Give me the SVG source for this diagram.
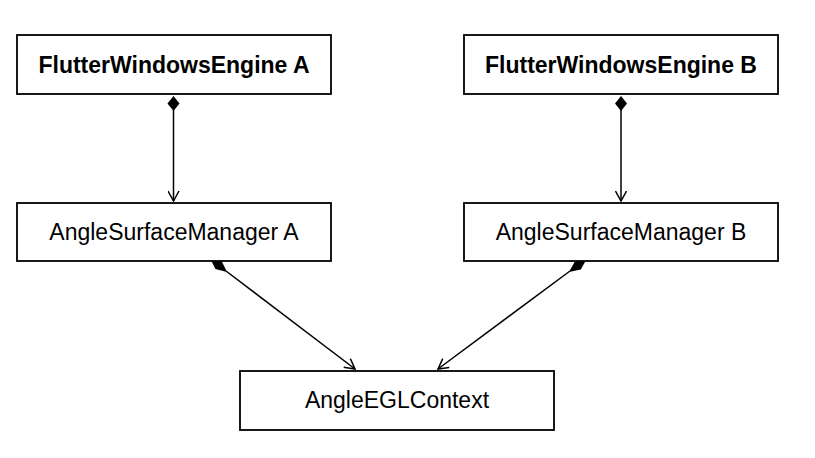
<svg xmlns="http://www.w3.org/2000/svg" width="815" height="458" viewBox="0 0 815 458">
  <style>
    .box { fill: #ffffff; stroke: #000000; stroke-width: 1.8; }
    .lbl { font-family: "Liberation Sans", Arial, Helvetica, sans-serif; font-size: 23px; fill: #000000; text-anchor: middle; }
    .bold { font-weight: bold; }
    .edge { fill: none; stroke: #000000; stroke-width: 1.5; }
    .dia { fill: #000000; stroke: none; }
  </style>
  <defs>
    <marker id="open" viewBox="0 0 12 12" refX="11" refY="6" markerWidth="12" markerHeight="12" markerUnits="userSpaceOnUse" orient="auto">
      <path d="M1,0.5 L11,6 L1,11.5" fill="none" stroke="#000000" stroke-width="1.5"/>
    </marker>
  </defs>
  <rect width="815" height="458" fill="#ffffff"/>
  <g id="connectors">
    <g id="e1">
      <polygon class="dia" points="173.5,96 179.5,103.5 173.5,111 167.5,103.5"/>
      <line class="edge" x1="173.5" y1="110" x2="173.5" y2="201" marker-end="url(#open)"/>
    </g>
    <g id="e2">
      <polygon class="dia" points="621,96 627,103.5 621,111 615,103.5"/>
      <line class="edge" x1="621" y1="110" x2="621" y2="201" marker-end="url(#open)"/>
    </g>
    <g id="e3">
      <polygon class="dia" points="210,258 221.6,261 227,272 215.4,269"/>
      <line class="edge" x1="226" y1="271" x2="355" y2="369" marker-end="url(#open)"/>
    </g>
    <g id="e4">
      <polygon class="dia" points="586.7,258.9 574.9,261.5 569,272 580.8,269.5"/>
      <line class="edge" x1="570" y1="271" x2="438" y2="369" marker-end="url(#open)"/>
    </g>
  </g>
  <g id="engineA">
    <rect class="box" x="17" y="35" width="314" height="59"/>
    <text class="lbl bold" x="174" y="73">FlutterWindowsEngine A</text>
  </g>
  <g id="engineB">
    <rect class="box" x="464" y="35" width="314" height="59"/>
    <text class="lbl bold" x="621" y="73">FlutterWindowsEngine B</text>
  </g>
  <g id="asmA">
    <rect class="box" x="17" y="203" width="314" height="58"/>
    <text class="lbl" x="174" y="240">AngleSurfaceManager A</text>
  </g>
  <g id="asmB">
    <rect class="box" x="464" y="203" width="314" height="58"/>
    <text class="lbl" x="621" y="240">AngleSurfaceManager B</text>
  </g>
  <g id="egl">
    <rect class="box" x="240" y="371" width="314" height="59"/>
    <text class="lbl" x="397" y="408">AngleEGLContext</text>
  </g>
</svg>
